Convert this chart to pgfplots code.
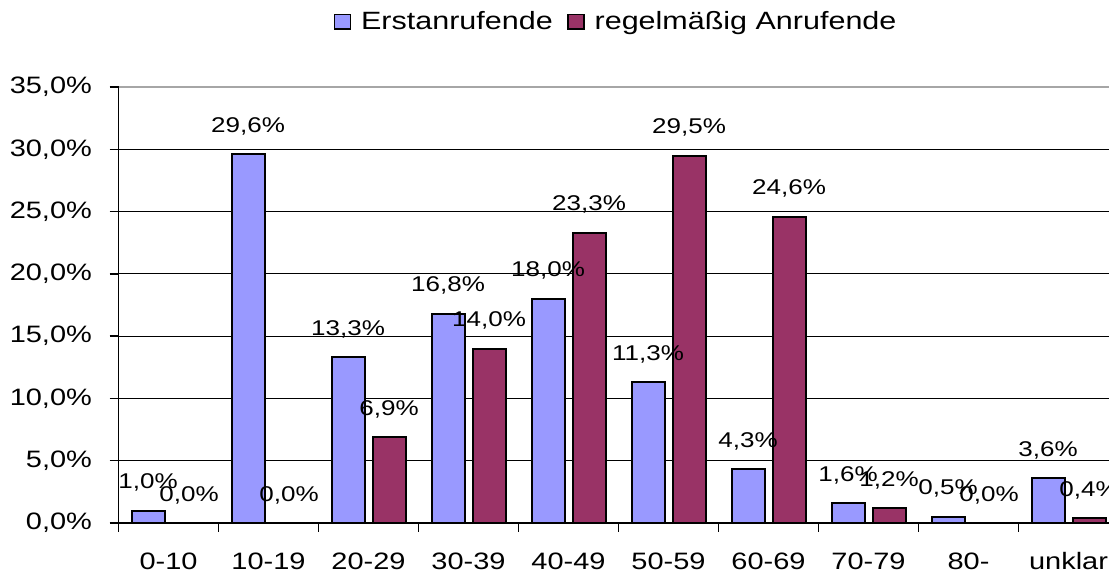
\documentclass[border=0pt]{standalone}
\usepackage{pgfplots}
\pgfplotsset{compat=1.18}
\usepackage{fontspec}
\setmainfont{Liberation Sans}[FakeStretch=1.22]
\definecolor{cblue}{HTML}{9999FF}
\definecolor{cred}{HTML}{993366}
\begin{document}
\begin{tikzpicture}
\useasboundingbox (0,0) rectangle (831.75pt,429.75pt);
\begin{axis}[
  at={(88.875pt,37.5pt)}, anchor=south west,
  scale only axis, width=750pt, height=327pt,
  xmin=-0.5, xmax=9.5, ymin=0, ymax=35,
  axis x line*=bottom, axis y line*=left,
  axis line style={line width=1.3pt, -},
  ybar=6pt, bar width=24.75pt,
  xtick={0,...,9},
  xticklabels={0-10,10-19,20-29,30-39,40-49,50-59,60-69,70-79,80-,unklar},
  minor xtick={-0.5,0.5,...,9.5},
  xtick style={draw=none},
  minor x tick style={draw=black, line width=1pt},
  tick align=outside,
  major tick length=6.75pt, minor tick length=6.75pt,
  ytick={0,5,...,30},
  yticklabels={{0,0\%},{5,0\%},{10,0\%},{15,0\%},{20,0\%},{25,0\%},{30,0\%}},
  extra y ticks={35},
  extra y tick style={yticklabel={35,0\%}, grid style={gray!70, line width=1pt}},
  ytick style={draw=black, line width=1pt},
  ymajorgrids,
  grid style={black, line width=0.9pt},
  tick label style={font=\fontsize{17.8pt}{19pt}\selectfont},
  yticklabel style={anchor=east, inner sep=0pt},
  yticklabel shift=13pt,
  xticklabel style={anchor=base, inner sep=0pt, yshift=-28pt},
  point meta=y,
  nodes near coords={\pgfmathprintnumber[assume math mode=true, fixed, fixed zerofill, precision=1, use comma]{\pgfplotspointmeta}\%},
  nodes near coords style={anchor=center, yshift=21pt, font=\fontsize{16pt}{18pt}\selectfont, inner sep=0pt},
  legend columns=2,
  legend style={at={(0.498,1.150)}, anchor=center, draw=none, fill=none,
    font=\fontsize{18.75pt}{20pt}\selectfont,
    nodes={inner sep=2pt},
    /tikz/every even column/.append style={column sep=9pt}},
  legend image code/.code={\draw[#1, draw=black, line width=0.9pt] (0pt,-5.5pt) rectangle (12pt,5.5pt); \path[draw=none, fill=none] (0pt,0pt) -- (18pt,0pt);},
]
\addplot[fill=cblue, draw=black, line width=1.5pt] coordinates {
(0,1.0) (1,29.6) (2,13.3) (3,16.8) (4,18.0) (5,11.3) (6,4.3) (7,1.6) (8,0.5) (9,3.6)};
\addplot[fill=cred, draw=black, line width=1.5pt] coordinates {
(0,0.0) (1,0.0) (2,6.9) (3,14.0) (4,23.3) (5,29.5) (6,24.6) (7,1.2) (8,0.0) (9,0.4)};
\legend{Erstanrufende, regelmäßig Anrufende}
\end{axis}
\end{tikzpicture}
\end{document}
